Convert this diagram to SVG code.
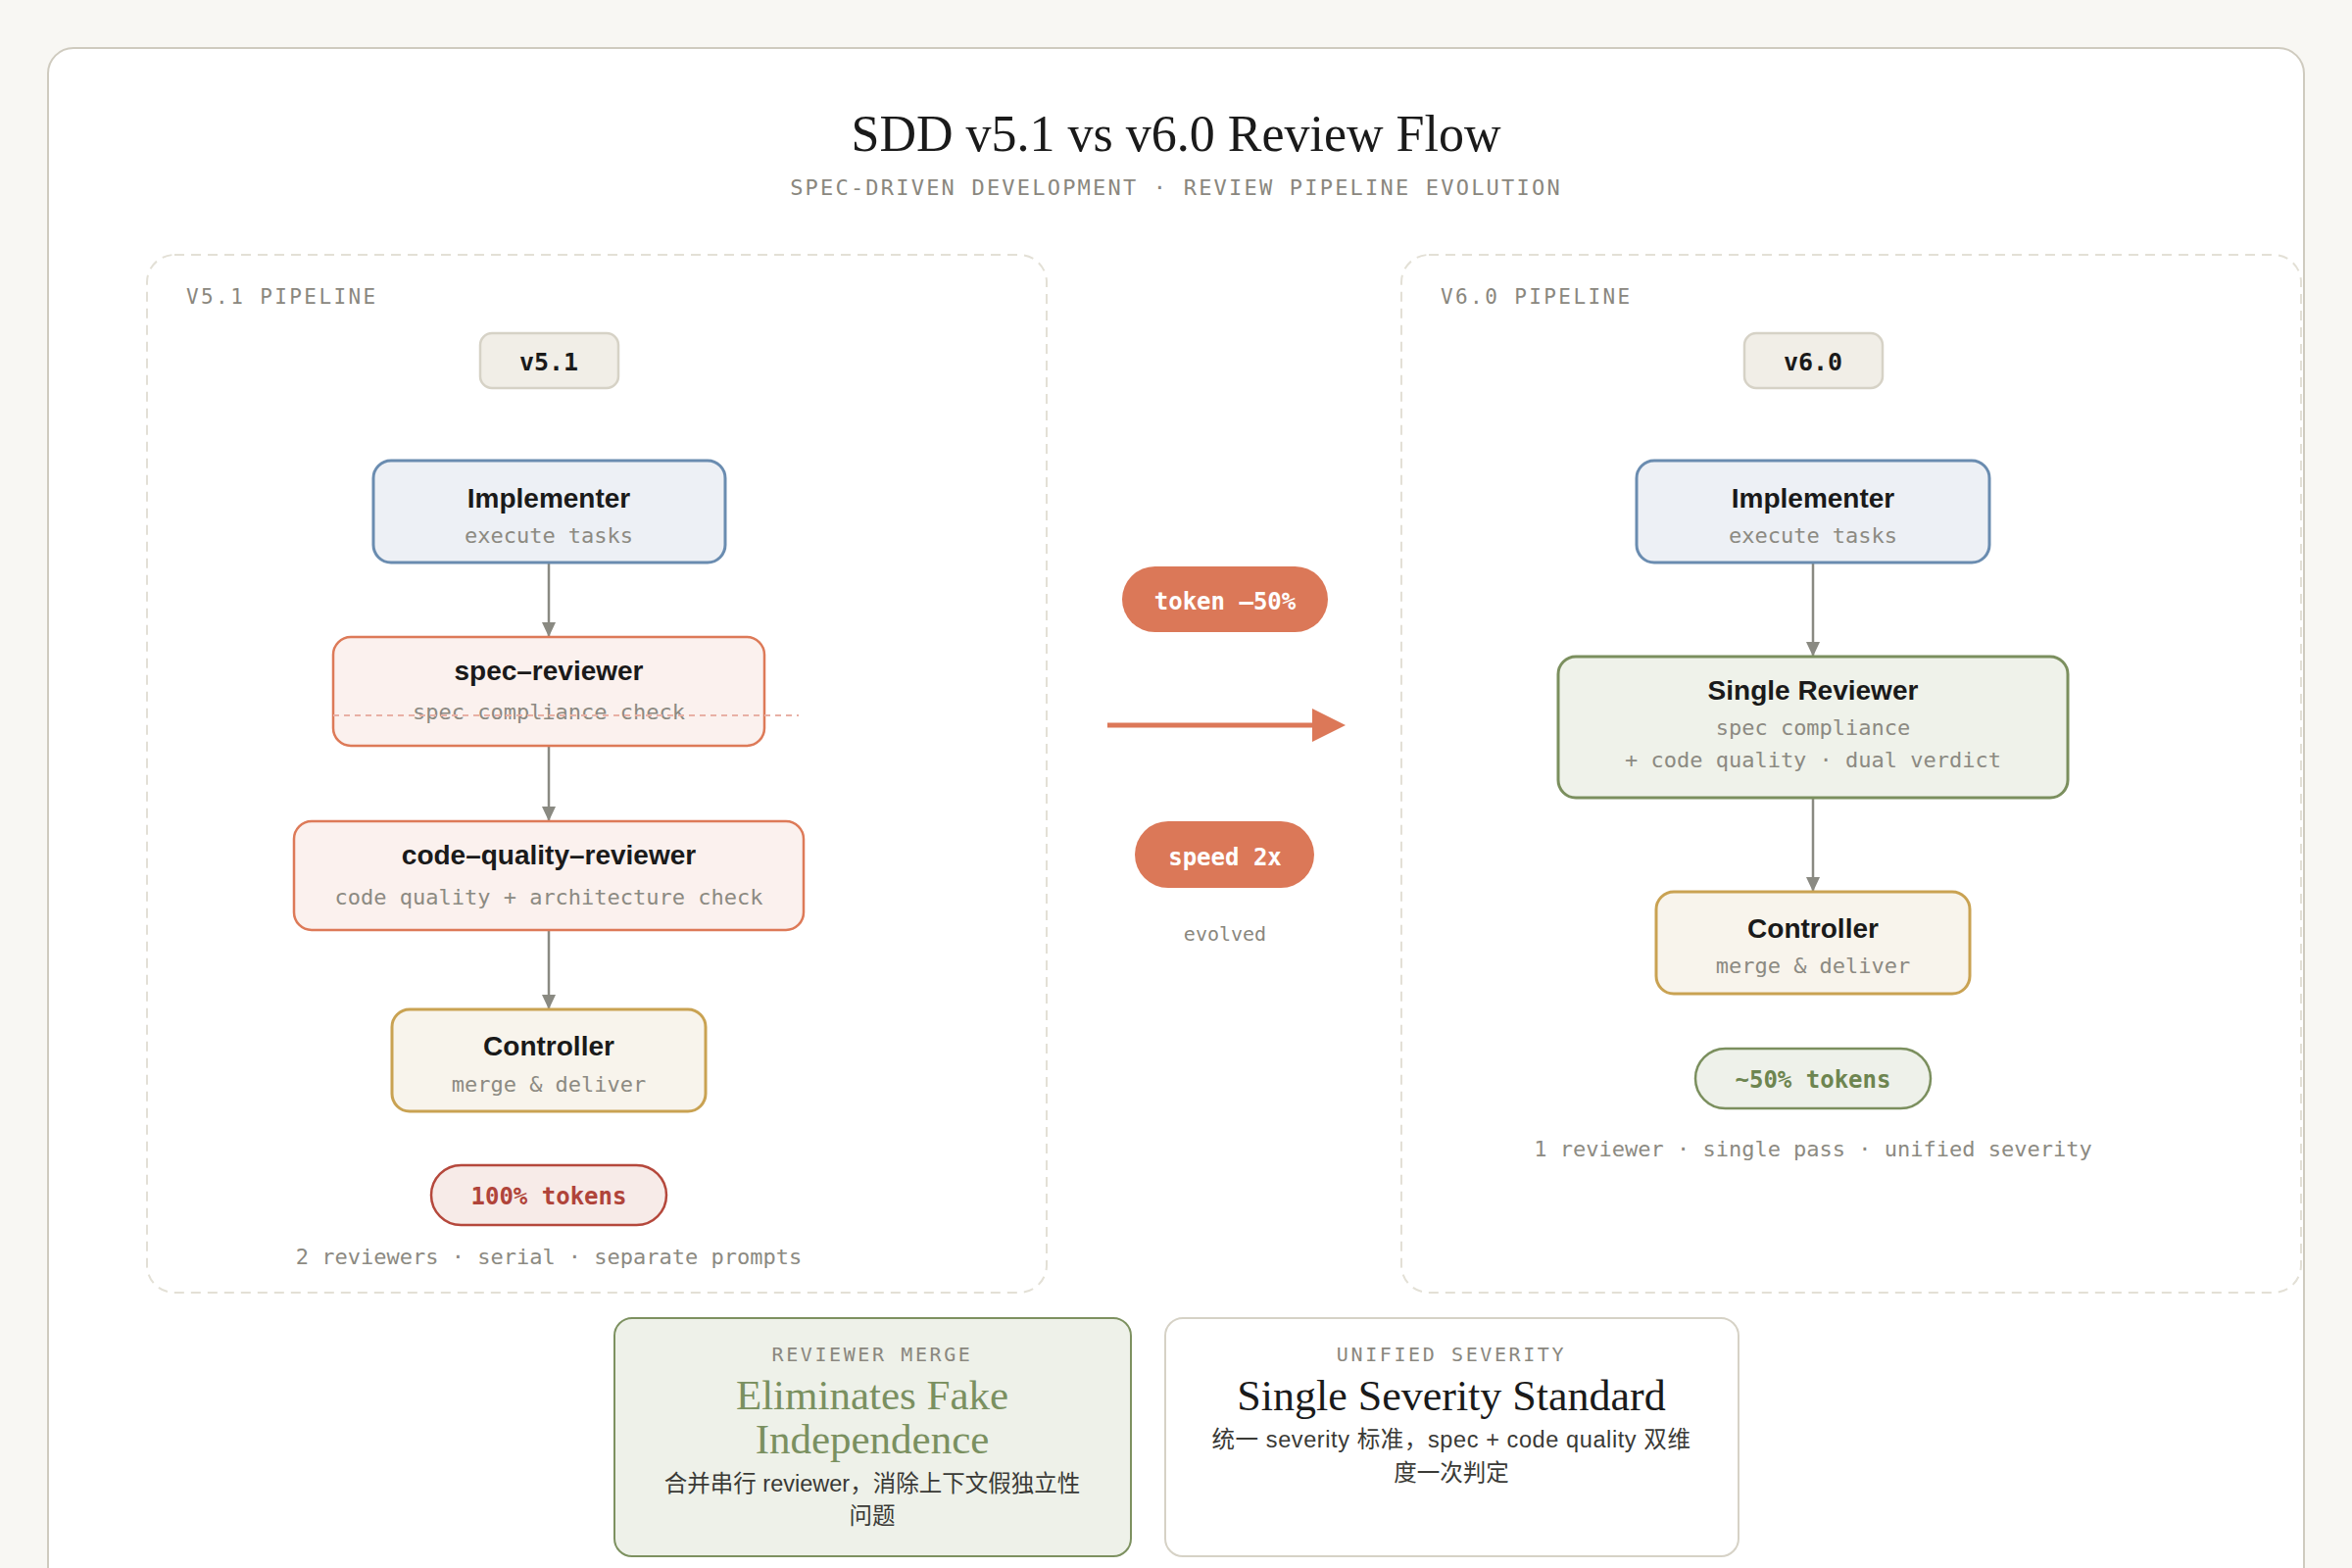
<svg xmlns="http://www.w3.org/2000/svg" width="2400" height="1600" viewBox="0 0 2400 1600">
<defs>
<marker id="ah" markerUnits="userSpaceOnUse" markerWidth="16" markerHeight="16" refX="15" refY="8" orient="auto">
<path d="M0,1 L15,8 L0,15 Z" fill="#8a8a82"/>
</marker>
<style>
.sans{font-family:'Liberation Sans','Noto Sans CJK SC',sans-serif}
.mono{font-family:'DejaVu Sans Mono','Liberation Mono',monospace}
.serif{font-family:'Liberation Serif',serif}
.panel{fill:none;stroke:#e3e0d6;stroke-width:2;stroke-dasharray:10 7}
.plabel{font-family:'DejaVu Sans Mono','Liberation Mono',monospace;font-size:21px;letter-spacing:2.4px;fill:#8a877e}
.badge rect{fill:#f1eee7;stroke:#d6d2c6;stroke-width:2.5}
.badge text{font-family:'DejaVu Sans Mono','Liberation Mono',monospace;font-size:25px;font-weight:bold;fill:#1a1a1a;text-anchor:middle}
.ttl{font-family:'Liberation Sans',sans-serif;font-size:28px;font-weight:bold;fill:#1a1a1a;text-anchor:middle}
.sub{font-family:'DejaVu Sans Mono','Liberation Mono',monospace;font-size:22px;fill:#8c8a82;text-anchor:middle}
.impl rect{fill:#edf0f5;stroke:#6a8cb0;stroke-width:3}
.rev rect{fill:#fbf1ee;stroke:#dd7a58;stroke-width:2.5}
.ctrl rect{fill:#f8f4ec;stroke:#c9a252;stroke-width:3}
.single rect{fill:#eff2ea;stroke:#7b8f5e;stroke-width:3}
.edge{stroke:#8a8a82;stroke-width:2.5;fill:none;marker-end:url(#ah)}
.cap{font-family:'DejaVu Sans Mono','Liberation Mono',monospace;font-size:22px;fill:#8c8a82;text-anchor:middle}
.pilltxt{font-family:'DejaVu Sans Mono','Liberation Mono',monospace;font-size:24px;font-weight:bold;text-anchor:middle}
.cn{font-family:'Liberation Sans','Noto Sans CJK SC',sans-serif;font-size:23.5px;fill:#3a3a36;text-anchor:middle}
</style>
</defs>
<rect x="0" y="0" width="2400" height="1600" fill="#f8f7f3"/>
<rect x="49" y="49" width="2302" height="1620" rx="26" fill="#ffffff" stroke="#cfcbbf" stroke-width="2"/>

<g id="title">
<text x="1200" y="154" class="serif" font-size="52" fill="#1a1a1a" text-anchor="middle">SDD v5.1 vs v6.0 Review Flow</text>
<text x="1200" y="199" class="mono" font-size="22" letter-spacing="2.2" fill="#8a877e" text-anchor="middle">SPEC-DRIVEN DEVELOPMENT · REVIEW PIPELINE EVOLUTION</text>
</g>

<g id="panel-v51">
<rect class="panel" x="150" y="260" width="918" height="1059" rx="28"/>
<text class="plabel" x="190" y="310">V5.1 PIPELINE</text>
</g>
<g id="panel-v60">
<rect class="panel" x="1430" y="260" width="918" height="1059" rx="28"/>
<text class="plabel" x="1470" y="310">V6.0 PIPELINE</text>
</g>

<g id="connectors">
<line class="edge" x1="560" y1="575" x2="560" y2="650"/>
<line class="edge" x1="560" y1="762" x2="560" y2="838"/>
<line class="edge" x1="560" y1="950" x2="560" y2="1030"/>
<line class="edge" x1="1850" y1="575" x2="1850" y2="670"/>
<line class="edge" x1="1850" y1="814" x2="1850" y2="910"/>
<line x1="1130" y1="740" x2="1342" y2="740" stroke="#dc7858" stroke-width="5"/>
<polygon points="1339,723 1373,740 1339,757" fill="#dc7858"/>
</g>

<g id="badge-v51" class="badge">
<rect x="490" y="340" width="141" height="56" rx="12"/>
<text x="560" y="378">v5.1</text>
</g>
<g id="badge-v60" class="badge">
<rect x="1780" y="340" width="141" height="56" rx="12"/>
<text x="1850" y="378">v6.0</text>
</g>

<g id="v51-implementer" class="impl">
<rect x="381" y="470" width="359" height="104" rx="18"/>
<text class="ttl" x="560" y="518">Implementer</text>
<text class="sub" x="560" y="554">execute tasks</text>
</g>
<g id="v51-spec-reviewer" class="rev">
<rect x="340" y="650" width="440" height="111" rx="18"/>
<text class="ttl" x="560" y="694">spec–reviewer</text>
<text class="sub" x="560" y="734">spec compliance check</text>
<line x1="340" y1="730" x2="815" y2="730" stroke="#e8b0a5" stroke-width="1.8" stroke-dasharray="6 5"/>
</g>
<g id="v51-code-quality-reviewer" class="rev">
<rect x="300" y="838" width="520" height="111" rx="18"/>
<text class="ttl" x="560" y="882">code–quality–reviewer</text>
<text class="sub" x="560" y="923">code quality + architecture check</text>
</g>
<g id="v51-controller" class="ctrl">
<rect x="400" y="1030" width="320" height="104" rx="18"/>
<text class="ttl" x="560" y="1077">Controller</text>
<text class="sub" x="560" y="1114">merge &amp; deliver</text>
</g>
<g id="v51-tokens">
<rect x="440" y="1189" width="240" height="61" rx="30.5" fill="#f7ebe8" stroke="#b5483c" stroke-width="2.5"/>
<text class="pilltxt" x="560" y="1229" fill="#b0443a" font-size="23">100% tokens</text>
</g>
<text class="cap" x="560" y="1290">2 reviewers · serial · separate prompts</text>

<g id="evolution">
<rect x="1145" y="578" width="210" height="67" rx="33.5" fill="#db7858"/>
<text class="pilltxt" x="1250" y="622" fill="#ffffff">token –50%</text>
<rect x="1158" y="838" width="183" height="68" rx="34" fill="#db7858"/>
<text class="pilltxt" x="1250" y="883" fill="#ffffff">speed 2x</text>
<text class="mono" x="1250" y="960" font-size="20" fill="#8a877e" text-anchor="middle">evolved</text>
</g>

<g id="v60-implementer" class="impl">
<rect x="1670" y="470" width="360" height="104" rx="18"/>
<text class="ttl" x="1850" y="518">Implementer</text>
<text class="sub" x="1850" y="554">execute tasks</text>
</g>
<g id="v60-single-reviewer" class="single">
<rect x="1590" y="670" width="520" height="144" rx="18"/>
<text class="ttl" x="1850" y="714">Single Reviewer</text>
<text class="sub" x="1850" y="750">spec compliance</text>
<text class="sub" x="1850" y="783">+ code quality · dual verdict</text>
</g>
<g id="v60-controller" class="ctrl">
<rect x="1690" y="910" width="320" height="104" rx="18"/>
<text class="ttl" x="1850" y="957">Controller</text>
<text class="sub" x="1850" y="993">merge &amp; deliver</text>
</g>
<g id="v60-tokens">
<rect x="1730" y="1070" width="240" height="61" rx="30.5" fill="#eef1ea" stroke="#7b8f5e" stroke-width="2.5"/>
<text class="pilltxt" x="1850" y="1110" fill="#6d8550" font-size="23">~50% tokens</text>
</g>
<text class="cap" x="1850" y="1180">1 reviewer · single pass · unified severity</text>

<g id="card-reviewer-merge">
<rect x="627" y="1345" width="527" height="243" rx="18" fill="#eef1e9" stroke="#7d9160" stroke-width="2"/>
<text class="mono" x="890" y="1389" font-size="20" letter-spacing="2.6" fill="#8a877e" text-anchor="middle">REVIEWER MERGE</text>
<text class="serif" x="890" y="1438" font-size="43" fill="#7a9060" text-anchor="middle">Eliminates Fake</text>
<text class="serif" x="890" y="1483" font-size="43" fill="#7a9060" text-anchor="middle">Independence</text>
<text class="cn" x="890" y="1522">合并串行 reviewer，消除上下文假独立性</text>
<text class="cn" x="890" y="1555">问题</text>
</g>
<g id="card-unified-severity">
<rect x="1189" y="1345" width="585" height="243" rx="18" fill="#ffffff" stroke="#d6d2c6" stroke-width="2"/>
<text class="mono" x="1481" y="1389" font-size="20" letter-spacing="2.6" fill="#8a877e" text-anchor="middle">UNIFIED SEVERITY</text>
<text class="serif" x="1481" y="1439" font-size="44" fill="#1a1a1a" text-anchor="middle">Single Severity Standard</text>
<text class="cn" x="1481" y="1477" letter-spacing="0.6">统一 severity 标准，spec + code quality 双维</text>
<text class="cn" x="1481" y="1511">度一次判定</text>
</g>
</svg>
